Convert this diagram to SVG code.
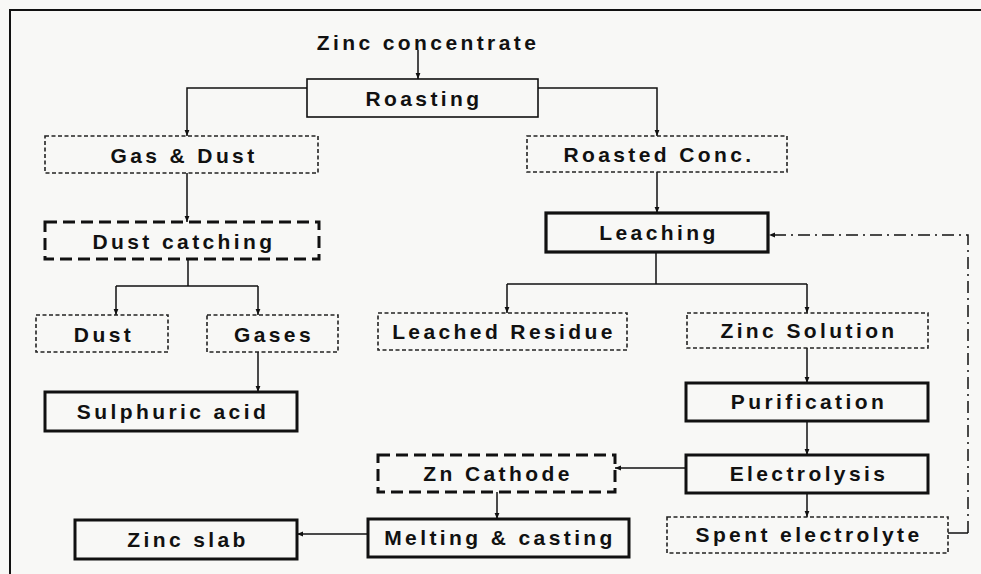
<svg xmlns="http://www.w3.org/2000/svg" width="981" height="574" viewBox="0 0 981 574">
<style>
.t{font-family:"Liberation Sans",Arial,sans-serif;font-weight:bold;font-size:21px;letter-spacing:3.4px;fill:#111;text-anchor:middle}
.thin{fill:none;stroke:#111;stroke-width:1.6}
.dot{fill:none;stroke:#222;stroke-width:1.6;stroke-dasharray:4 2.5}
.dash{fill:none;stroke:#111;stroke-width:3;stroke-dasharray:12 6}
.thick{fill:none;stroke:#111;stroke-width:3}
.c{fill:none;stroke:#111;stroke-width:1.5}
.dd{fill:none;stroke:#111;stroke-width:1.5;stroke-dasharray:12 5 2 5}
</style>
<defs>
<marker id="ah" viewBox="0 0 10 10" refX="10" refY="5" markerWidth="6" markerHeight="6" orient="auto" markerUnits="userSpaceOnUse">
<path d="M0,1 L10,5 L0,9 z" fill="#111"/>
</marker>
</defs>
<rect x="0" y="0" width="981" height="574" fill="#f8f8f6"/>
<path d="M10,574 V10 H981" fill="none" stroke="#111" stroke-width="2"/>

<g id="connectors">
<path class="c" d="M418,50 V79" marker-end="url(#ah)"/>
<path class="c" d="M307,88 H187 V136" marker-end="url(#ah)"/>
<path class="c" d="M538,88 H657 V136" marker-end="url(#ah)"/>
<path class="c" d="M187,173 V222" marker-end="url(#ah)"/>
<path class="c" d="M188,259 V286"/>
<path class="c" d="M116,286 H258"/>
<path class="c" d="M116,286 V315" marker-end="url(#ah)"/>
<path class="c" d="M258,286 V315" marker-end="url(#ah)"/>
<path class="c" d="M258,352 V392" marker-end="url(#ah)"/>
<path class="c" d="M657,172 V213" marker-end="url(#ah)"/>
<path class="c" d="M656,252 V284"/>
<path class="c" d="M507,284 H807"/>
<path class="c" d="M507,284 V313" marker-end="url(#ah)"/>
<path class="c" d="M807,284 V313" marker-end="url(#ah)"/>
<path class="c" d="M807,348 V383" marker-end="url(#ah)"/>
<path class="c" d="M807,421 V455" marker-end="url(#ah)"/>
<path class="c" d="M807,493 V517" marker-end="url(#ah)"/>
<path class="c" d="M686,468 H615" marker-end="url(#ah)"/>
<path class="c" d="M497,492 V519" marker-end="url(#ah)"/>
<path class="c" d="M368,534 H297" marker-end="url(#ah)"/>
<path class="c" d="M948,533 H968"/>
<path class="dd" d="M968,533 V235 H769" marker-end="url(#ah)"/>
</g>

<g id="zinc-concentrate"><text class="t" x="428" y="50">Zinc concentrate</text></g>
<g id="roasting"><rect class="thin" x="307" y="79" width="231" height="38"/><text class="t" x="424" y="106">Roasting</text></g>
<g id="gas-dust"><rect class="dot" x="45" y="136" width="273" height="37"/><text class="t" x="184" y="163">Gas &amp; Dust</text></g>
<g id="roasted-conc"><rect class="dot" x="527" y="136" width="260" height="36"/><text class="t" x="659" y="162">Roasted Conc.</text></g>
<g id="dust-catching"><rect class="dash" x="45" y="222" width="274" height="37"/><text class="t" x="184" y="249">Dust catching</text></g>
<g id="leaching"><rect x="546" y="213" width="222" height="39" fill="none" stroke="#111" stroke-width="3.2"/><text class="t" x="659" y="240">Leaching</text></g>
<g id="dust"><rect class="dot" x="36" y="315" width="132" height="37"/><text class="t" x="104" y="342">Dust</text></g>
<g id="gases"><rect class="dot" x="207" y="315" width="131" height="37"/><text class="t" x="274" y="342">Gases</text></g>
<g id="leached-residue"><rect class="dot" x="378" y="313" width="249" height="37"/><text class="t" x="504" y="339">Leached Residue</text></g>
<g id="zinc-solution"><rect class="dot" x="687" y="313" width="241" height="35"/><text class="t" x="809" y="338">Zinc Solution</text></g>
<g id="sulphuric-acid"><rect class="thick" x="45" y="392" width="252" height="39"/><text class="t" x="173" y="419">Sulphuric acid</text></g>
<g id="purification"><rect class="thick" x="686" y="383" width="242" height="38"/><text class="t" x="809" y="409">Purification</text></g>
<g id="electrolysis"><rect class="thick" x="686" y="455" width="242" height="38"/><text class="t" x="809" y="481">Electrolysis</text></g>
<g id="zn-cathode"><rect class="dash" x="378" y="455" width="237" height="37"/><text class="t" x="498" y="481">Zn Cathode</text></g>
<g id="zinc-slab"><rect class="thick" x="75" y="520" width="222" height="39"/><text class="t" x="188" y="547">Zinc slab</text></g>
<g id="melting-casting"><rect class="thick" x="368" y="519" width="261" height="38"/><text class="t" x="500" y="545">Melting &amp; casting</text></g>
<g id="spent-electrolyte"><rect class="dot" x="667" y="517" width="281" height="36"/><text class="t" x="809" y="542">Spent electrolyte</text></g>
</svg>
